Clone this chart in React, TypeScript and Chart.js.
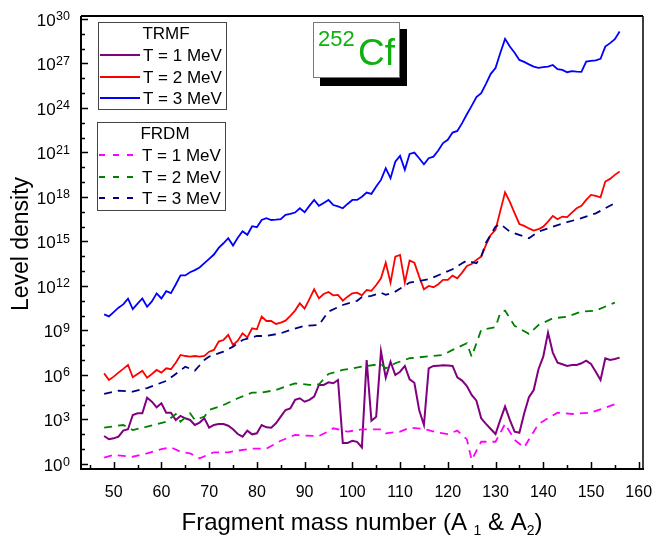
import React, { useEffect, useRef } from "react";
import { Chart, registerables } from "chart.js";
Chart.register(...registerables);

// ---------------- data (values stored as log10 of level density) ----------------
const masses = [48,49,50,51,52,53,54,55,56,57,58,59,60,61,62,63,64,65,66,67,68,69,70,71,72,73,74,75,76,77,78,79,80,81,82,83,84,85,86,87,88,89,90,91,92,93,94,95,96,97,98,99,100,101,102,103,104,105,106,107,108,109,110,111,112,113,114,115,116,117,118,119,120,121,122,123,124,125,126,127,128,129,130,131,132,133,134,135,136,137,138,139,140,141,142,143,144,145,146,147,148,149,150,151,152,153,154,155,156];

const trmfT1 = [1.89,1.67,1.73,1.84,2.25,2.34,3.30,3.42,3.42,4.47,4.20,3.82,4.09,3.46,3.46,2.97,3.24,3.08,2.97,2.63,2.79,3.08,2.45,2.63,2.70,2.70,2.58,2.34,2.02,1.84,2.25,2.00,2.07,2.63,2.47,2.45,2.74,3.19,3.64,3.75,4.32,4.43,4.20,4.32,4.54,5.33,5.33,5.51,5.44,5.66,1.42,1.42,1.56,1.49,1.12,7.01,2.92,3.19,7.60,5.82,6.90,6.00,6.22,6.61,5.71,5.48,3.64,2.63,6.45,6.61,6.63,6.65,6.64,6.61,5.84,5.62,5.26,4.65,4.27,3.08,2.70,2.36,2.02,2.97,3.87,2.97,2.18,2.11,3.41,4.50,4.99,6.39,7.24,8.86,7.51,6.83,6.72,6.61,6.68,6.68,6.79,6.97,6.74,6.22,5.66,7.12,7.01,7.08,7.17];

const trmfT2 = [6.11,5.66,5.89,6.16,6.41,6.68,5.85,6.07,6.29,5.82,6.07,6.34,6.16,6.45,6.39,6.83,7.35,7.28,7.24,7.28,7.24,7.28,7.57,7.69,8.25,8.36,8.70,8.02,8.31,8.81,8.54,9.15,9.08,9.94,9.64,9.64,9.44,9.53,9.66,9.98,10.34,10.83,10.47,11.11,11.78,11.17,11.46,11.60,11.37,11.40,11.01,11.28,11.51,11.55,11.37,11.73,11.67,12.07,12.52,13.57,12.23,13.98,14.09,12.23,13.71,13.57,12.63,11.78,12.00,11.92,12.12,12.41,12.41,12.70,12.52,12.90,13.35,13.48,13.76,13.98,14.77,15.44,15.78,17.06,18.32,17.67,16.91,16.18,16.05,15.88,15.73,15.83,16.00,16.34,16.72,16.50,16.68,16.64,16.95,17.24,17.40,17.80,18.14,18.07,17.98,19.04,19.22,19.49,19.71];

const trmfT3 = [10.09,9.95,10.24,10.54,10.76,11.14,10.44,10.81,11.16,10.60,10.96,11.50,11.16,11.65,11.52,12.10,12.71,12.71,12.93,13.07,13.25,13.54,13.83,14.12,14.57,14.88,15.22,14.73,15.25,15.69,15.45,16.03,15.96,16.45,16.57,16.45,16.47,16.50,16.79,16.86,16.95,17.24,16.97,17.40,17.80,17.40,17.60,17.80,17.46,17.36,17.24,17.53,17.80,17.80,18.02,18.30,18.21,18.70,19.15,19.94,19.27,20.38,20.77,19.83,20.90,20.99,20.61,20.21,20.61,20.72,21.13,21.63,21.85,22.34,22.45,22.98,23.58,24.14,24.73,25.00,25.63,26.30,26.69,27.70,28.66,28.14,27.72,27.24,27.11,26.94,26.79,26.70,26.75,26.79,26.90,26.62,26.57,26.41,26.48,26.45,26.43,27.13,27.18,27.21,27.31,28.14,28.37,28.64,29.15];

const frdmT1Mass = [48,50,52,54,57,60,62,64,66,68,71,74,76,79,82,85,88,90,93,95,96,99,102,106,107,110,112,115,118,120,122,124,125,127,130,132,134,136,138,139,143,146,150,155];
const frdmT1 = [0.43,0.61,0.55,0.49,0.72,1.01,1.12,0.83,0.72,0.38,0.79,0.79,0.90,1.03,1.03,1.57,1.96,1.91,1.89,2.20,2.41,2.18,2.34,2.34,2.07,2.18,2.45,2.36,2.11,2.02,2.25,1.66,0.27,1.50,1.50,2.70,1.62,1.12,2.18,2.70,3.46,3.37,3.46,4.03];

const frdmT2Mass = [48,52,54,57,61,63,64,66,67,69,70,73,76,79,81,84,88,91,93,95,98,102,106,107,109,112,119,121,124,125,127,130,131,132,134,137,139,142,145,148,151,155];
const frdmT2 = [2.45,2.63,2.29,2.52,2.85,3.37,2.85,3.42,2.97,3.19,3.64,3.98,4.43,4.81,4.81,4.99,5.44,5.33,5.37,6.07,6.34,6.56,6.74,6.45,6.79,7.13,7.35,7.69,8.14,7.24,9.04,9.22,10.20,10.34,9.31,8.77,9.37,9.82,9.93,10.27,10.34,10.88];

const frdmT3Mass = [48,51,54,57,61,63,65,67,69,70,73,75,77,80,82,85,87,90,93,95,98,101,102,104,106,107,109,112,116,119,121,123,124,126,127,128,130,131,133,137,139,142,145,148,151,153,155];
const frdmT3 = [4.72,4.94,4.88,5.12,5.60,6.07,6.56,6.29,7.01,7.24,7.57,7.91,8.36,8.63,8.63,8.81,9.04,9.31,9.37,10.27,10.72,11.00,11.25,11.33,11.55,11.40,11.62,12.23,12.45,12.86,13.13,13.53,13.71,13.53,13.98,14.92,16.00,16.18,15.66,15.22,15.66,16.00,16.30,16.57,16.90,17.24,17.58];

const xMajorTicks = [50,60,70,80,90,100,110,120,130,140,150,160];
const xMinorTicks = [45,55,65,75,85,95,105,115,125,135,145,155];
const yMajorExponents = [0,3,6,9,12,15,18,21,24,27,30];
const yMinorExponents = [1,2,4,5,7,8,10,11,13,14,16,17,19,20,22,23,25,26,28,29];

const FONT = '"Liberation Sans", Arial, sans-serif';

const toPoints = (xs: number[], es: number[]) => xs.map((x, i) => ({ x, y: Math.pow(10, es[i]) }));

const framePlugin = {
  id: "frameAxes",
  afterDatasetsDraw(chart: any) {
    const { ctx, chartArea, scales } = chart;
    const { left, right, top, bottom } = chartArea;
    const x = scales.x, y = scales.y;
    ctx.save();
    ctx.strokeStyle = "#000";
    ctx.lineWidth = 2;
    ctx.beginPath();
    ctx.moveTo(left, top); ctx.lineTo(right, top);
    ctx.moveTo(left, top); ctx.lineTo(left, bottom);
    ctx.moveTo(left - 1, bottom); ctx.lineTo(right + 1, bottom);
    ctx.stroke();
    ctx.lineWidth = 1.5;
    ctx.beginPath();
    ctx.moveTo(right, top); ctx.lineTo(right, bottom);
    ctx.stroke();
    // ticks (inward)
    ctx.lineWidth = 1.5;
    ctx.beginPath();
    xMajorTicks.forEach(v => { const p = Math.round(x.getPixelForValue(v)) + 0.5; ctx.moveTo(p, bottom); ctx.lineTo(p, bottom - 7); });
    xMinorTicks.forEach(v => { const p = Math.round(x.getPixelForValue(v)) + 0.5; ctx.moveTo(p, bottom); ctx.lineTo(p, bottom - 4); });
    yMajorExponents.forEach(e => { const p = Math.round(y.getPixelForValue(Math.pow(10, e))) + 0.5; ctx.moveTo(left, p); ctx.lineTo(left + 7, p); });
    yMinorExponents.forEach(e => { const p = Math.round(y.getPixelForValue(Math.pow(10, e))) + 0.5; ctx.moveTo(left, p); ctx.lineTo(left + 4, p); });
    ctx.stroke();
    // x tick labels
    ctx.fillStyle = "#000";
    ctx.font = `16px ${FONT}`;
    ctx.textAlign = "center";
    ctx.textBaseline = "alphabetic";
    xMajorTicks.forEach(v => ctx.fillText(String(v), x.getPixelForValue(v), bottom + 28));
    // y tick labels: 10^e
    yMajorExponents.forEach(e => {
      const p = y.getPixelForValue(Math.pow(10, e));
      const rightEdge = left - 11;
      ctx.font = `12.5px ${FONT}`;
      const ew = ctx.measureText(String(e)).width;
      ctx.textAlign = "left";
      ctx.fillText(String(e), rightEdge - ew, p + 1.5);
      ctx.font = `17px ${FONT}`;
      ctx.textAlign = "right";
      ctx.fillText("10", rightEdge - ew - 0.5, p + 7);
    });
    // y axis title
    ctx.font = `23px ${FONT}`;
    ctx.textAlign = "center";
    ctx.save();
    ctx.translate(28, 244);
    ctx.rotate(-Math.PI / 2);
    ctx.fillText("Level density", 0, 0);
    ctx.restore();
    // x axis title with subscripts
    const parts: [string, boolean][] = [["Fragment mass number (A ", false], ["1", true], [" & A", false], ["2", true], [")", false]];
    const big = `24px ${FONT}`, small = `14px ${FONT}`;
    let total = 0;
    parts.forEach(([t, s]) => { ctx.font = s ? small : big; total += ctx.measureText(t).width; });
    let cx = 362 - total / 2;
    const base = 530;
    ctx.textAlign = "left";
    parts.forEach(([t, s]) => {
      ctx.font = s ? small : big;
      ctx.fillText(t, cx, s ? base + 5 : base);
      cx += ctx.measureText(t).width;
    });
    ctx.restore();
  },
};

const legendPlugin = {
  id: "twoLegends",
  afterDraw(chart: any) {
    const { ctx } = chart;
    const ds = chart.data.datasets;
    ctx.save();
    const drawBox = (x0: number, y0: number, w: number, h: number, title: string, items: any[], rows: number[], dashed: boolean) => {
      ctx.fillStyle = "#fff";
      ctx.fillRect(x0, y0, w, h);
      ctx.strokeStyle = "#444";
      ctx.lineWidth = 1;
      ctx.setLineDash([]);
      ctx.strokeRect(x0 + 0.5, y0 + 0.5, w, h);
      ctx.fillStyle = "#000";
      ctx.font = `17px ${FONT}`;
      ctx.textAlign = "center";
      ctx.textBaseline = "middle";
      ctx.fillText(title, x0 + 68, y0 + 12);
      items.forEach((d, i) => {
        const yy = rows[i];
        ctx.strokeStyle = d.borderColor;
        ctx.lineWidth = 2;
        ctx.setLineDash(dashed ? [6, 8] : []);
        ctx.beginPath();
        ctx.moveTo(x0 + 2, yy);
        ctx.lineTo(x0 + 42, yy);
        ctx.stroke();
        ctx.setLineDash([]);
        ctx.fillStyle = "#000";
        ctx.textAlign = "left";
        ctx.fillText(d.label, x0 + 45, yy + 1);
      });
    };
    drawBox(98, 22, 128, 87, "TRMF", [ds[3], ds[4], ds[5]], [55, 77, 98], false);
    drawBox(97, 122, 128, 88, "FRDM", [ds[0], ds[1], ds[2]], [155, 177, 198], true);
    // 252Cf label box with shadow
    ctx.setLineDash([]);
    ctx.fillStyle = "#000";
    ctx.fillRect(320, 29, 87, 57);
    ctx.fillStyle = "#fff";
    ctx.fillRect(313, 22, 87, 56);
    ctx.strokeStyle = "#777";
    ctx.lineWidth = 1;
    ctx.strokeRect(313.5, 22.5, 86, 55);
    ctx.fillStyle = "#10b010";
    ctx.textAlign = "left";
    ctx.textBaseline = "alphabetic";
    ctx.font = `22px ${FONT}`;
    ctx.fillText("252", 318, 46);
    ctx.font = `37px ${FONT}`;
    ctx.fillText("Cf", 358, 65);
    ctx.restore();
  },
};

export default function App() {
  const ref = useRef<HTMLCanvasElement | null>(null);
  useEffect(() => {
    if (!ref.current) return;
    const dash = [8, 6];
    const chart = new Chart(ref.current, {
      type: "line",
      data: {
        datasets: [
          { label: "T = 1 MeV", data: toPoints(frdmT1Mass, frdmT1), borderColor: "#ff00ff", borderWidth: 1.8, borderDash: dash, pointRadius: 0, fill: false },
          { label: "T = 2 MeV", data: toPoints(frdmT2Mass, frdmT2), borderColor: "#008000", borderWidth: 1.8, borderDash: dash, pointRadius: 0, fill: false },
          { label: "T = 3 MeV", data: toPoints(frdmT3Mass, frdmT3), borderColor: "#000080", borderWidth: 1.8, borderDash: dash, pointRadius: 0, fill: false },
          { label: "T = 1 MeV", data: toPoints(masses, trmfT1), borderColor: "#800080", borderWidth: 2, pointRadius: 0, fill: false },
          { label: "T = 2 MeV", data: toPoints(masses, trmfT2), borderColor: "#ff0000", borderWidth: 1.8, pointRadius: 0, fill: false },
          { label: "T = 3 MeV", data: toPoints(masses, trmfT3), borderColor: "#0000ff", borderWidth: 1.8, pointRadius: 0, fill: false },
        ],
      },
      options: {
        animation: false,
        responsive: false,
        events: [],
        layout: { padding: { left: 81, top: 16, right: 10, bottom: 68 } },
        plugins: { legend: { display: false }, tooltip: { enabled: false } },
        elements: { line: { tension: 0 } },
        scales: {
          x: { type: "linear", min: 43.15, max: 160.9, display: false },
          y: { type: "logarithmic", min: Math.pow(10, -0.337), max: Math.pow(10, 30.2), display: false },
        },
      } as any,
      plugins: [framePlugin, legendPlugin],
    });
    return () => chart.destroy();
  }, []);
  return (
    <div style={{ position: "absolute", left: 0, top: 0, width: 653, height: 537, background: "#fff" }}>
      <canvas ref={ref} width={653} height={537} />
    </div>
  );
}
